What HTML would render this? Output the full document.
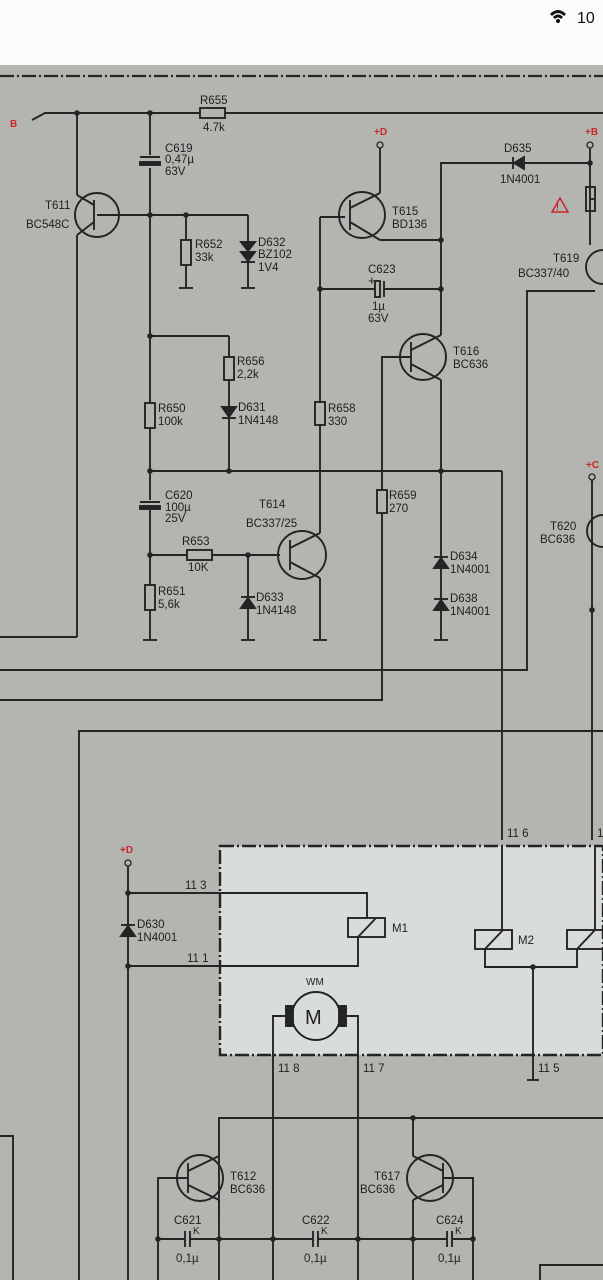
<!DOCTYPE html>
<html><head><meta charset="utf-8"><style>
html,body{margin:0;padding:0;width:603px;height:1280px;overflow:hidden;background:#fff}
svg{display:block}
text{font-family:"Liberation Sans",sans-serif;font-size:11.5px;fill:#1f1f1f}
.r{fill:#c8262b;font-size:10px;font-weight:bold}
</style></head><body>
<svg width="603" height="1280" viewBox="0 0 603 1280" xmlns="http://www.w3.org/2000/svg">
<rect x="0" y="0" width="603" height="65" fill="#fbfbfb"/>
<g fill="#111"><path d="M550 14 Q558 6 566 14 L564 16 Q558 10 552 16Z"/><path d="M553 17 Q558 12 563 17 L561 19 Q558 16 555 19Z"/><circle cx="558" cy="21" r="2"/></g>
<text x="577" y="23" style="font-size:16px;fill:#111">10</text>
<rect x="0" y="65" width="603" height="1215" fill="#b4b5b1"/>
<rect x="220" y="846" width="383" height="209" fill="#d9dcdd"/>
<g stroke="#242424" stroke-width="1.9" fill="none">
<line x1="0" y1="76" x2="603" y2="76" stroke-dasharray="14,3,2,3" stroke-width="2.2"/>
<polyline points="32,120 45,113 200,113"/><line x1="225" y1="113" x2="603" y2="113"/>
<rect x="200" y="108" width="25" height="10"/>
<circle cx="97" cy="215" r="22"/>
<line x1="77" y1="113" x2="77" y2="195"/><line x1="77" y1="195" x2="94" y2="205"/>
<line x1="94" y1="200" x2="94" y2="230"/><line x1="94" y1="222" x2="77" y2="235"/><line x1="77" y1="235" x2="77" y2="637"/>
<line x1="97" y1="215" x2="248" y2="215"/>
<line x1="0" y1="637" x2="77" y2="637"/>
<line x1="150" y1="113" x2="150" y2="155"/><line x1="150" y1="168" x2="150" y2="500"/><line x1="150" y1="510" x2="150" y2="640"/>
<line x1="140" y1="157" x2="160" y2="157"/><rect x="140" y="162" width="20" height="3" fill="#242424"/>
<line x1="140" y1="502" x2="160" y2="502"/><rect x="140" y="506" width="20" height="3" fill="#242424"/>
<rect x="181" y="240" width="10" height="25" fill="#b4b5b1"/><line x1="186" y1="215" x2="186" y2="240"/><line x1="186" y1="265" x2="186" y2="288"/><line x1="179" y1="288" x2="193" y2="288"/>
<line x1="248" y1="215" x2="248" y2="288"/><line x1="241" y1="288" x2="255" y2="288"/>
<polygon points="241,242 255,242 248,251" fill="#242424"/><polygon points="241,252 255,252 248,261" fill="#242424"/><line x1="241" y1="262" x2="255" y2="262"/>
<line x1="150" y1="336" x2="229" y2="336"/><line x1="229" y1="336" x2="229" y2="471"/>
<rect x="224" y="357" width="10" height="23" fill="#b4b5b1"/>
<polygon points="222,407 236,407 229,417" fill="#242424"/><line x1="222" y1="418" x2="236" y2="418"/>
<rect x="145" y="403" width="10" height="25" fill="#b4b5b1"/>
<line x1="150" y1="471" x2="502" y2="471"/><line x1="502" y1="471" x2="502" y2="840"/>
<line x1="150" y1="555" x2="187" y2="555"/><rect x="187" y="550" width="25" height="10"/><line x1="212" y1="555" x2="280" y2="555"/>
<rect x="145" y="585" width="10" height="25" fill="#b4b5b1"/><line x1="143" y1="640" x2="157" y2="640"/>
<line x1="248" y1="555" x2="248" y2="640"/><line x1="241" y1="640" x2="255" y2="640"/>
<polygon points="241,608 255,608 248,598" fill="#242424"/><line x1="241" y1="597" x2="255" y2="597"/>
<circle cx="302" cy="555" r="24"/><line x1="290" y1="540" x2="290" y2="570"/>
<line x1="290" y1="548" x2="320" y2="533"/><line x1="290" y1="562" x2="320" y2="578"/>
<line x1="320" y1="578" x2="320" y2="640"/><line x1="313" y1="640" x2="327" y2="640"/>
<line x1="320" y1="533" x2="320" y2="425"/><rect x="315" y="402" width="10" height="23" fill="#b4b5b1"/>
<line x1="320" y1="402" x2="320" y2="217"/><line x1="320" y1="217" x2="345" y2="217"/>
<circle cx="362" cy="215" r="23"/><line x1="350" y1="200" x2="350" y2="230"/>
<line x1="350" y1="208" x2="380" y2="193"/><line x1="380" y1="193" x2="380" y2="148"/>
<line x1="350" y1="222" x2="380" y2="240"/><line x1="380" y1="240" x2="441" y2="240"/>
<line x1="320" y1="289" x2="375" y2="289"/><rect x="375" y="281" width="5" height="16"/><line x1="384" y1="281" x2="384" y2="297"/><line x1="384" y1="289" x2="441" y2="289"/>
<polyline points="441,335 441,163 513,163"/><line x1="524" y1="163" x2="590" y2="163"/>
<polygon points="524,157 524,169 514,163" fill="#242424"/><line x1="513" y1="157" x2="513" y2="169"/>
<line x1="590" y1="148" x2="590" y2="245"/><rect x="586" y="187" width="9" height="24"/><line x1="590" y1="199" x2="595" y2="199"/>
<circle cx="603" cy="267" r="17"/>
<polyline points="595,291 527,291 527,670 0,670"/>
<circle cx="423" cy="357" r="23"/><line x1="411" y1="342" x2="411" y2="372"/>
<line x1="411" y1="350" x2="441" y2="335"/><line x1="411" y1="364" x2="441" y2="380"/>
<line x1="441" y1="380" x2="441" y2="640"/><line x1="434" y1="640" x2="448" y2="640"/>
<polyline points="411,357 382,357 382,700 0,700"/>
<rect x="377" y="490" width="10" height="23" fill="#b4b5b1"/>
<polygon points="434,568 448,568 441,558" fill="#242424"/><line x1="434" y1="557" x2="448" y2="557"/>
<polygon points="434,610 448,610 441,600" fill="#242424"/><line x1="434" y1="599" x2="448" y2="599"/>
<line x1="592" y1="480" x2="592" y2="840"/><circle cx="603" cy="531" r="16"/>
<polyline points="79,1280 79,731 603,731"/>
<rect x="220" y="846" width="383" height="209" stroke-dasharray="14,3,2,3" stroke-width="2.4"/>
<line x1="128" y1="866" x2="128" y2="1280"/>
<line x1="128" y1="893" x2="220" y2="893"/><line x1="128" y1="966" x2="220" y2="966"/>
<polygon points="121,936 135,936 128,926" fill="#242424"/><line x1="121" y1="925" x2="135" y2="925"/>
<polyline points="220,893 367,893 367,918"/><rect x="348" y="918" width="37" height="19"/><line x1="358" y1="937" x2="376" y2="918"/><polyline points="358,937 358,966 220,966"/>
<line x1="502" y1="846" x2="502" y2="930"/><rect x="475" y="930" width="37" height="19"/><line x1="485" y1="949" x2="503" y2="930"/>
<line x1="595" y1="846" x2="595" y2="930"/><rect x="567" y="930" width="37" height="19"/><line x1="577" y1="949" x2="595" y2="930"/>
<polyline points="485,949 485,967 577,967 577,949"/><line x1="533" y1="967" x2="533" y2="1080"/><line x1="527" y1="1080" x2="539" y2="1080"/>
<circle cx="316" cy="1016" r="24"/><rect x="286" y="1006" width="7" height="20" fill="#242424"/><rect x="339" y="1006" width="7" height="20" fill="#242424"/>
<polyline points="286,1016 273,1016 273,1280"/><polyline points="346,1016 358,1016 358,1280"/>
<polyline points="0,1136 13,1136 13,1280"/>
<polyline points="219,1218 219,1118 603,1118"/>
<circle cx="200" cy="1178" r="23"/><line x1="188" y1="1163" x2="188" y2="1193"/>
<line x1="188" y1="1171" x2="219" y2="1156"/><line x1="188" y1="1185" x2="219" y2="1200"/><line x1="219" y1="1200" x2="219" y2="1280"/>
<polyline points="188,1178 158,1178 158,1280"/>
<circle cx="430" cy="1178" r="23"/><line x1="443" y1="1163" x2="443" y2="1193"/>
<line x1="443" y1="1171" x2="413" y2="1156"/><line x1="413" y1="1156" x2="413" y2="1118"/><line x1="443" y1="1185" x2="413" y2="1200"/><line x1="413" y1="1200" x2="413" y2="1280"/>
<polyline points="443,1178 473,1178 473,1280"/>
<line x1="158" y1="1239" x2="185" y2="1239"/><line x1="185" y1="1231" x2="185" y2="1247"/><line x1="190" y1="1231" x2="190" y2="1247"/><line x1="190" y1="1239" x2="313" y2="1239"/>
<line x1="313" y1="1231" x2="313" y2="1247"/><line x1="318" y1="1231" x2="318" y2="1247"/><line x1="318" y1="1239" x2="447" y2="1239"/>
<line x1="447" y1="1231" x2="447" y2="1247"/><line x1="452" y1="1231" x2="452" y2="1247"/><line x1="452" y1="1239" x2="473" y2="1239"/>
<polyline points="540,1280 540,1265 603,1265"/>
</g>
<g fill="#242424">
<circle cx="77" cy="113" r="2.8"/><circle cx="150" cy="113" r="2.8"/><circle cx="150" cy="215" r="2.8"/><circle cx="186" cy="215" r="2.8"/>
<circle cx="150" cy="336" r="2.8"/><circle cx="150" cy="471" r="2.8"/><circle cx="229" cy="471" r="2.8"/><circle cx="441" cy="471" r="2.8"/>
<circle cx="150" cy="555" r="2.8"/><circle cx="248" cy="555" r="2.8"/><circle cx="320" cy="289" r="2.8"/><circle cx="441" cy="289" r="2.8"/><circle cx="441" cy="240" r="2.8"/><circle cx="590" cy="163" r="2.8"/><circle cx="592" cy="610" r="2.8"/>
<circle cx="128" cy="893" r="2.8"/><circle cx="128" cy="966" r="2.8"/><circle cx="533" cy="967" r="2.8"/>
<circle cx="413" cy="1118" r="2.8"/><circle cx="158" cy="1239" r="2.8"/><circle cx="219" cy="1239" r="2.8"/><circle cx="273" cy="1239" r="2.8"/><circle cx="358" cy="1239" r="2.8"/><circle cx="413" cy="1239" r="2.8"/><circle cx="473" cy="1239" r="2.8"/>
</g>
<g fill="#b4b5b1" stroke="#242424" stroke-width="1.3">
<circle cx="380" cy="145" r="3"/><circle cx="590" cy="145" r="3"/><circle cx="592" cy="477" r="3"/><circle cx="128" cy="863" r="3"/>
</g>
<polygon points="552,212 568,212 560,198" fill="none" stroke="#c8262b" stroke-width="1.5"/>
<text x="10" y="127" class="r">B</text><text x="374" y="135" class="r">+D</text><text x="585" y="135" class="r">+B</text><text x="586" y="468" class="r">+C</text><text x="120" y="853" class="r">+D</text>
<text x="200" y="104">R655</text><text x="203" y="131">4.7k</text>
<text x="165" y="152">C619</text><text x="165" y="163">0,47µ</text><text x="165" y="175">63V</text>
<text x="45" y="209">T611</text><text x="26" y="228">BC548C</text>
<text x="195" y="248">R652</text><text x="195" y="261">33k</text>
<text x="258" y="246">D632</text><text x="258" y="258">BZ102</text><text x="258" y="271">1V4</text>
<text x="237" y="365">R656</text><text x="237" y="378">2,2k</text>
<text x="238" y="411">D631</text><text x="238" y="424">1N4148</text>
<text x="158" y="412">R650</text><text x="158" y="425">100k</text>
<text x="165" y="499">C620</text><text x="165" y="511">100µ</text><text x="165" y="522">25V</text>
<text x="259" y="508">T614</text><text x="246" y="527">BC337/25</text>
<text x="182" y="545">R653</text><text x="188" y="571">10K</text>
<text x="158" y="595">R651</text><text x="158" y="608">5,6k</text>
<text x="256" y="601">D633</text><text x="256" y="614">1N4148</text>
<text x="328" y="412">R658</text><text x="328" y="425">330</text>
<text x="389" y="499">R659</text><text x="389" y="512">270</text>
<text x="450" y="560">D634</text><text x="450" y="573">1N4001</text>
<text x="450" y="602">D638</text><text x="450" y="615">1N4001</text>
<text x="392" y="215">T615</text><text x="392" y="228">BD136</text>
<text x="368" y="273">C623</text><text x="368" y="285" style="font-size:13px">+</text><text x="372" y="310">1µ</text><text x="368" y="322">63V</text>
<text x="453" y="355">T616</text><text x="453" y="368">BC636</text>
<text x="504" y="152">D635</text><text x="500" y="183">1N4001</text>
<text x="556" y="210" class="r" style="font-size:9px">!</text>
<text x="553" y="262">T619</text><text x="518" y="277">BC337/40</text>
<text x="550" y="530">T620</text><text x="540" y="543">BC636</text>
<text x="137" y="928">D630</text><text x="137" y="941">1N4001</text>
<text x="185" y="889">11 3</text><text x="187" y="962">11 1</text>
<text x="392" y="932">M1</text><text x="518" y="944">M2</text>
<text x="306" y="985" style="font-size:10px">WM</text><text x="305" y="1024" style="font-size:20px">M</text>
<text x="278" y="1072">11 8</text><text x="363" y="1072">11 7</text><text x="538" y="1072">11 5</text>
<text x="507" y="837">11 6</text><text x="597" y="837">11</text>
<text x="230" y="1180">T612</text><text x="230" y="1193">BC636</text>
<text x="374" y="1180">T617</text><text x="360" y="1193">BC636</text>
<text x="174" y="1224">C621</text><text x="193" y="1234" style="font-size:10px">K</text><text x="176" y="1262">0,1µ</text>
<text x="302" y="1224">C622</text><text x="321" y="1234" style="font-size:10px">K</text><text x="304" y="1262">0,1µ</text>
<text x="436" y="1224">C624</text><text x="455" y="1234" style="font-size:10px">K</text><text x="438" y="1262">0,1µ</text>
</svg>
</body></html>
